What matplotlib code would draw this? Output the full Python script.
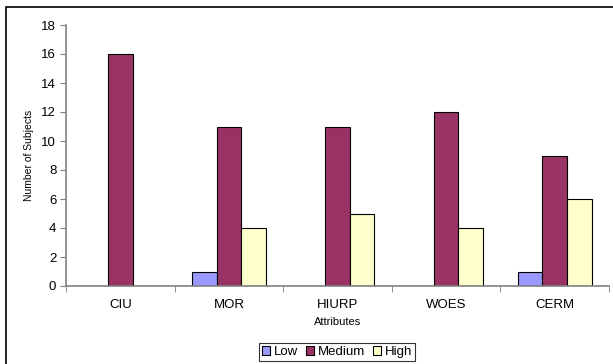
import numpy as np
import matplotlib.pyplot as plt
from matplotlib.patches import Rectangle

plt.rcParams['font.family'] = ['Liberation Sans', 'DejaVu Sans']

attributes = ['CIU', 'MOR', 'HIURP', 'WOES', 'CERM']
low = [0, 1, 0, 0, 1]
medium = [16, 11, 11, 12, 9]
high = [0, 4, 5, 4, 6]

series = [('Low', low, '#9999FF'), ('Medium', medium, '#993366'), ('High', high, '#FFFFCC')]

fig = plt.figure(figsize=(6.13, 3.64), dpi=100)
ax = fig.add_axes([66/613, 78/364, 543/613, 261/364])

# outer chart frame
fig.patches.append(Rectangle((6/613, -0.1), 1.2, (364-7)/364 + 0.1, transform=fig.transFigure,
                             fill=False, edgecolor='black', linewidth=1.2))

x = np.arange(len(attributes))
w = 0.226
for i, (name, vals, col) in enumerate(series):
    ax.bar(x + (i - 1) * w, vals, w, color=col, edgecolor='black', linewidth=0.8, label=name)

ax.set_xlim(-0.5, len(attributes) - 0.5)
ax.set_ylim(0, 18)
ax.set_yticks(range(0, 19, 2))
ax.set_xticks(x)
ax.set_xticklabels(attributes, fontsize=9.5)
ax.set_xticks(np.arange(-0.5, len(attributes)), minor=True)
ax.tick_params(axis='x', which='major', length=0, pad=9)
ax.tick_params(axis='x', which='minor', length=4, color='#808080', direction='out')
ax.tick_params(axis='y', labelsize=9.5, length=4, color='#808080', pad=3)

for s in ['top', 'right']:
    ax.spines[s].set_visible(False)
for s in ['left', 'bottom']:
    ax.spines[s].set_color('#808080')
    ax.spines[s].set_linewidth(1.2)

ax.set_ylabel('Number of Subjects', fontsize=7.5, labelpad=5)
ax.set_xlabel('Attributes', fontsize=8, labelpad=5)

leg = fig.legend(loc='center', bbox_to_anchor=(337/613, (364-352)/364), ncol=3, fontsize=9.5,
                 frameon=True, fancybox=False, edgecolor='black', handlelength=0.6,
                 handleheight=0.6, handletextpad=0.3, columnspacing=0.6, borderpad=0.25)
leg.get_frame().set_linewidth(0.8)

fig.savefig('out.png', dpi=100)
